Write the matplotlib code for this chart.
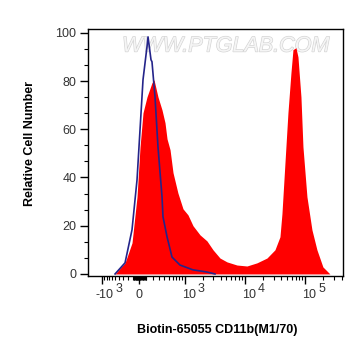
import numpy as np
import matplotlib
matplotlib.use("Agg")
import matplotlib.pyplot as plt
import matplotlib.patheffects as pe
from matplotlib.ticker import FixedLocator, MultipleLocator
from matplotlib.transforms import offset_copy

plt.rcParams['font.family'] = ['Liberation Sans', 'DejaVu Sans']

# sample histogram (CD11b stained), fluorescence vs relative count
red_x = [-504, -257, -122, -34, 14, 55, 111, 185, 217, 283, 357, 417, 461, 531,
         607, 749, 926, 1131, 1380, 1815, 2372, 2995, 3907, 5104, 7466, 10926,
         15984, 23389, 31680, 38340, 41364, 46368, 51948, 58248, 62892, 70488,
         76068, 85248, 91980, 107064, 129492, 156600, 196560, 256680]
red_y = [0, 4.6, 12.9, 32, 52.7, 66.8, 73.4, 79.3, 80.5, 73.4, 68, 62.7, 56, 51.5,
         42, 33.6, 27, 24.5, 20, 16.2, 13.7, 10, 6.6, 5, 3.7, 3.3,
         4.6, 6.6, 10, 15.4, 25, 46, 66.8, 83.4, 93, 93.8,
         90, 73.4, 52.7, 32, 18.3, 10, 2.9, 0]

# isotype / unstained control
blue_x = [-504, -257, -122, -34, 14, 55, 111, 126, 170, 185, 233, 283, 357, 376,
          461, 580, 817, 1380, 2372, 3229]
blue_y = [0, 4.6, 18.3, 39, 59.8, 80.5, 94.2, 98.3, 88.8, 88, 73.4, 52.7, 32, 23.7,
          15.4, 7, 3.7, 1.7, 0.8, 0]

x_major = [-1000, 0, 1000, 10000, 100000]
x_major_labels = [('-10', '3'), ('0', None), ('10', '3'), ('10', '4'), ('10', '5')]

# biexponential-like display scale
A = 360.0
NEG = 0.8


def fwd(x):
    x = np.asarray(x, dtype=float)
    return np.where(x < 0, NEG * np.arcsinh(x / A), np.arcsinh(x / A))


def inv(u):
    u = np.asarray(u, dtype=float)
    return np.where(u < 0, A * np.sinh(u / NEG), A * np.sinh(u))


fig = plt.figure(figsize=(3.64, 3.63), dpi=100)
ax = fig.add_axes([0.242, 0.240, 0.700, 0.679])
ax.set_xscale('function', functions=(fwd, inv))

# watermark
ax.text(0.54, 0.975, 'WWW.PTGLAB.COM', transform=ax.transAxes, ha='center', va='top',
        fontsize=15.5, style='italic', color='#f5f5f5', zorder=1,
        path_effects=[pe.withStroke(linewidth=0.9, foreground='#d2d2d2')])

ax.fill_between(red_x, red_y, 0, color='#ff0000', lw=0, zorder=2)
ax.plot(blue_x, blue_y, color='#24248a', lw=1.2, zorder=3)

ax.set_xlim(-2010, 420000)
ax.set_ylim(-0.8, 101.4)

minor = []
for m in range(1, 10):
    minor += [-100 * m, -10 * m, 10 * m, 100 * m]
for m in range(2, 10):
    minor += [1000 * m, 10000 * m]
minor += [200000, 300000, 400000]
ax.xaxis.set_major_locator(FixedLocator(x_major))
ax.xaxis.set_minor_locator(FixedLocator(sorted(minor)))
ax.set_xticklabels([''] * len(x_major))

ax.yaxis.set_major_locator(MultipleLocator(20))
ax.yaxis.set_minor_locator(MultipleLocator(20 / 3))
ax.tick_params(axis='both', which='major', length=5.5, width=1, color='black')
ax.tick_params(axis='both', which='minor', length=3, width=0.8, color='black')
ax.tick_params(axis='y', labelsize=9, labelcolor='#333333', pad=3)

for s in ax.spines.values():
    s.set_linewidth(1)

trans = ax.get_xaxis_transform()
for xv, (base, exp) in zip(x_major, x_major_labels):
    if exp is None:
        t = offset_copy(trans, fig=fig, x=0, y=-19, units='dots')
        ax.text(xv, 0, base, transform=t, ha='center', va='center',
                fontsize=9, color='#333333')
    else:
        t = offset_copy(trans, fig=fig, x=11, y=-19, units='dots')
        ax.text(xv, 0, base, transform=t, ha='right', va='center',
                fontsize=9, color='#333333')
        t2 = offset_copy(trans, fig=fig, x=13, y=-13.5, units='dots')
        ax.text(xv, 0, exp, transform=t2, ha='left', va='center',
                fontsize=9, color='#333333')

fig.text(217 / 364, 1 - 330 / 363, 'Biotin-65055 CD11b(M1/70)', ha='center', va='center',
         fontsize=9, fontweight='bold')
fig.text(30 / 364, 1 - 143 / 363, 'Relative Cell Number', ha='center', va='center',
         rotation=90, fontsize=9, fontweight='bold')

fig.savefig('out.png', dpi=100)
